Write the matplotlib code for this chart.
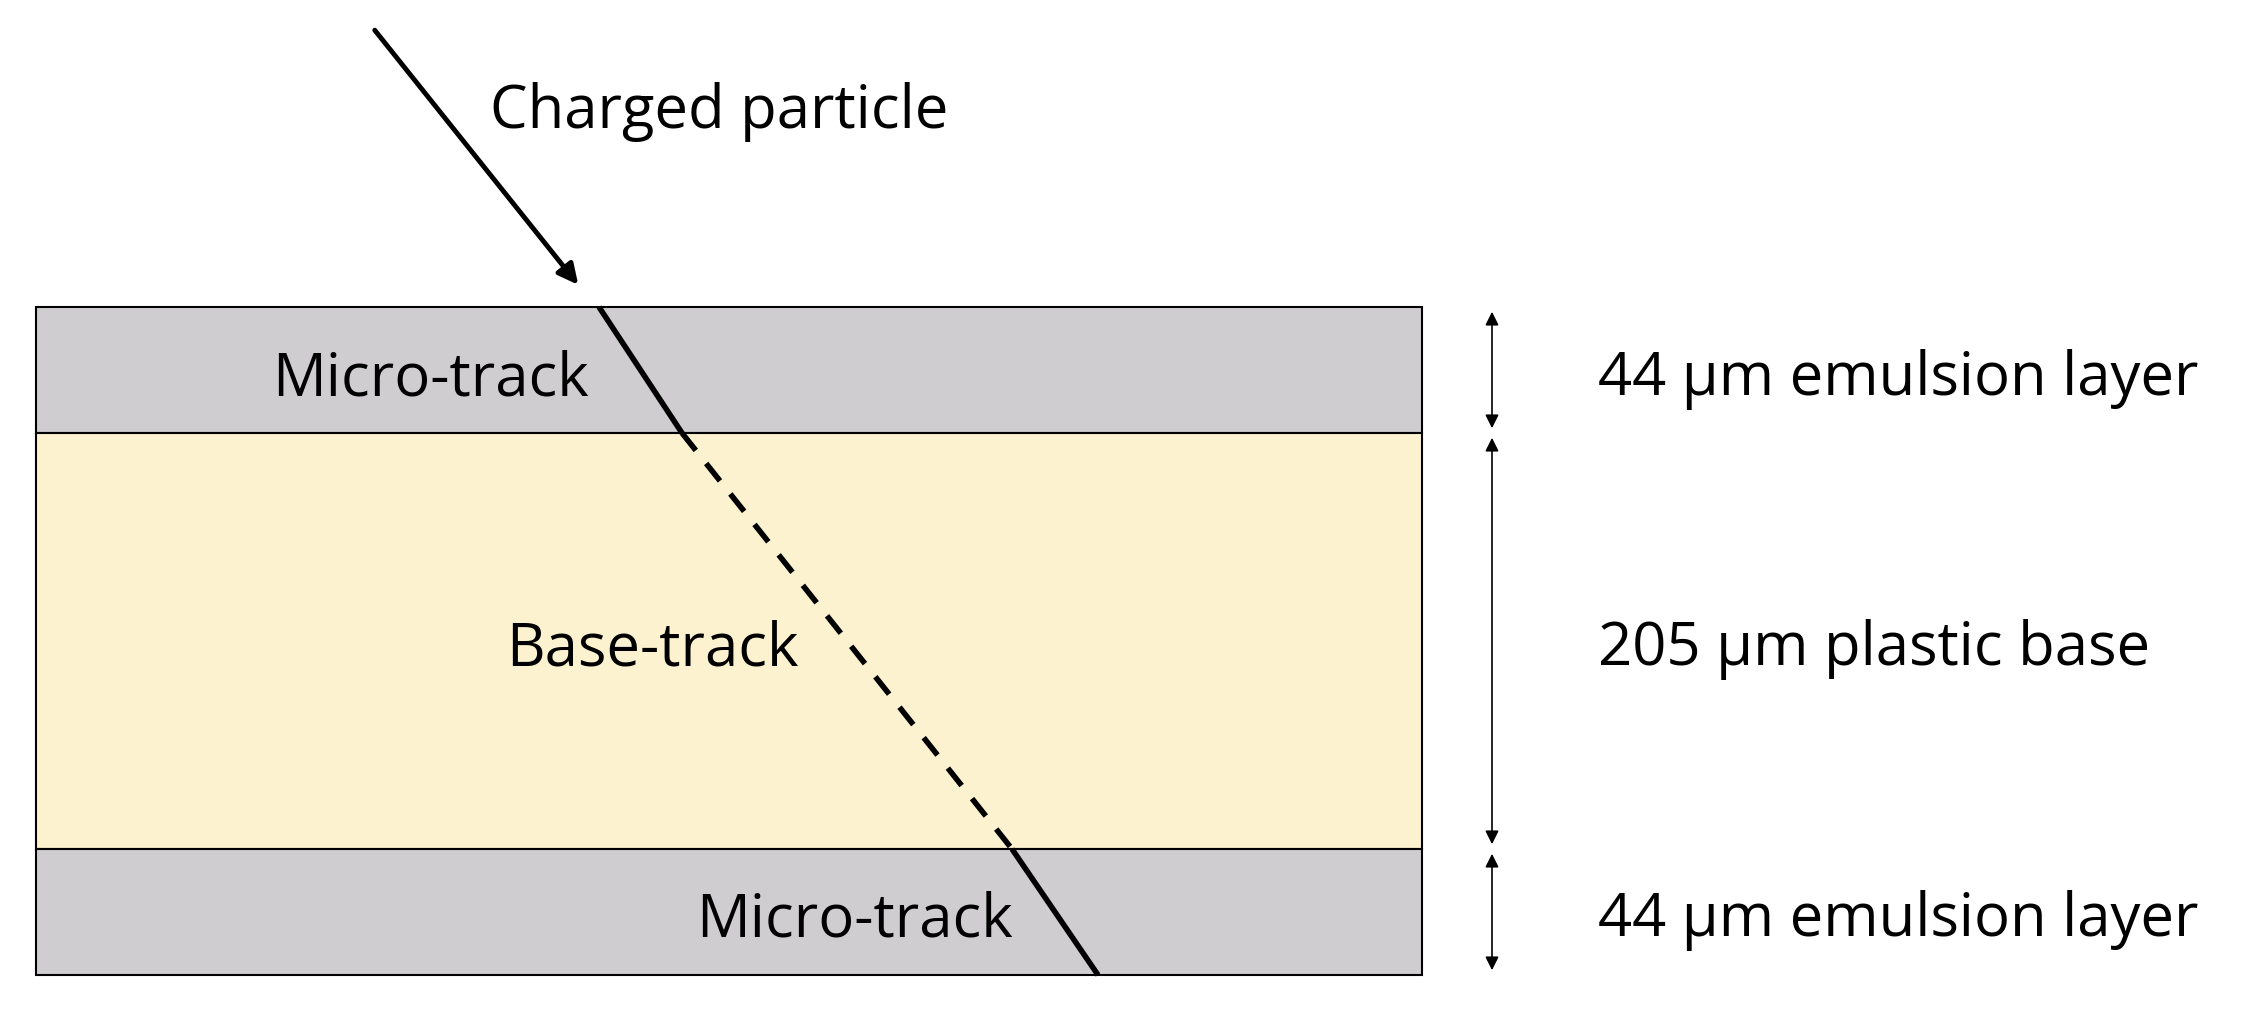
import matplotlib
matplotlib.use("Agg")
import matplotlib.pyplot as plt
from matplotlib.patches import Rectangle

# layers, top to bottom (drawn heights in pixels, labels)
layer_names = ["emulsion", "base", "emulsion"]
layer_heights = [126, 416, 126]
layer_colors = ["#d0cdd0", "#fcf2cf", "#d0cdd0"]
layer_labels = ["44 μm emulsion layer", "205 μm plastic base", "44 μm emulsion layer"]
track_labels = ["Micro-track", "Base-track", "Micro-track"]
track_label_x = [430, 652, 854]

plt.rcParams['font.family'] = ['Open Sans', 'DejaVu Sans']
fig = plt.figure(figsize=(22.47, 10.12), dpi=100)
ax = fig.add_axes([0, 0, 1, 1])
ax.set_xlim(0, 2247)
ax.set_ylim(1012, 0)
ax.axis("off")

x0, x1 = 36, 1422
top = 308
# track passes through layers along a straight line
track_x = [599, 682, 1012, 1098]
y = top
bounds = [top]
for i, h in enumerate(layer_heights):
    ax.add_patch(Rectangle((x0, y), x1 - x0, h, facecolor=layer_colors[i],
                           edgecolor="black", lw=1.5))
    ax.text(track_label_x[i], y + h / 2 + 8, track_labels[i], fontsize=43,
            ha="center", va="center")
    ax.text(1598, y + h / 2 + 8, layer_labels[i], fontsize=43, va="center")
    ax.annotate("", xy=(1492, y + 2), xytext=(1492, y + h - 2),
                arrowprops=dict(arrowstyle="<|-|>", color="black", lw=1.2,
                                mutation_scale=20))
    y += h
    bounds.append(y)

styles = ["-", (0, (4, 3)), "-"]
for i in range(3):
    ax.plot([track_x[i], track_x[i + 1]], [bounds[i], bounds[i + 1]],
            color="black", lw=4, linestyle=styles[i], solid_capstyle="butt")

ax.annotate("", xy=(580, 288), xytext=(373, 29),
            arrowprops=dict(arrowstyle="-|>", color="black", lw=3.5,
                            mutation_scale=30))
ax.text(490, 112, "Charged particle", fontsize=43, va="center")

fig.savefig("out.png", dpi=100)
